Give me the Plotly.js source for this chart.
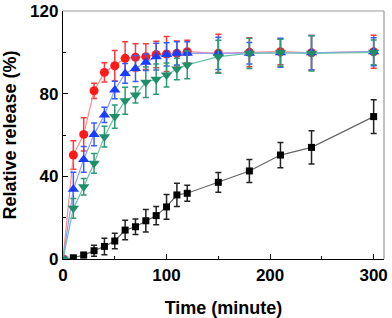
<!DOCTYPE html>
<html><head><meta charset="utf-8">
<script src="https://cdn.plot.ly/plotly-3.0.1.min.js"></script>
<style>html,body{margin:0;padding:0;background:#fff}#chart{width:392px;height:318px}</style>
</head><body><div id="chart"></div>
<script>
const time = [0,10,20,30,40,50,60,70,80,90,100,110,120,150,180,210,240,300];
const blackVals = [0,0.6,1.9,4.0,6.1,8.7,14.0,15.6,18.5,21.0,25.2,31.0,31.8,37.1,42.6,50.3,54.0,68.9];
const blackErr  = [0,0.8,1.2,2.7,4.0,3.8,4.7,3.8,5.4,4.4,6.0,5.6,3.9,4.8,5.6,6.1,8.0,8.2];
const redVals   = [0,50.3,60.3,81.4,90.3,93.5,97.1,97.6,97.9,99.0,99.2,99.5,100.3,99.5,100.0,100.3,99.8,100.3];
const redErr    = [0,6.9,8.0,3.7,4.7,7.4,8.0,6.6,6.2,6.4,8.5,6.0,5.5,9.3,7.0,6.3,8.3,8.0];
const blueVals  = [0,33.7,48.2,60.3,69.7,81.8,89.8,92.2,95.2,97.9,99.0,99.5,99.5,99.5,99.5,99.8,99.8,100.3];
const blueErr   = [0,8.3,6.2,5.5,3.7,4.2,4.8,6.3,4.0,6.5,5.6,5.6,5.6,7.8,5.2,7.0,8.3,6.8];
const greenVals = [0,24.5,35.0,46.3,59.2,68.9,76.6,79.4,85.5,87.0,89.0,91.9,93.9,97.9,99.5,99.8,99.5,100.0];
const greenErr  = [0,4.8,4.0,4.8,5.0,5.6,6.5,3.9,7.4,7.3,5.8,5.2,6.7,8.0,7.3,6.5,8.5,6.0];

function series(y, err, mColor, lColor, eColor, symbol, size){
  return {
    x: time, y: y, type: 'scatter', mode: 'lines+markers', cliponaxis: true,
    line: {color: lColor, width: 1.2},
    marker: {color: mColor, symbol: symbol, size: size},
    error_y: {type: 'data', array: err, visible: true, color: eColor, thickness: 1.5, width: 3}
  };
}
const data = [
  series(blackVals, blackErr, '#000000', '#666666', '#222222', 'square', 7),
  series(redVals, redErr, '#ff1a1a', '#ff8a8a', '#ff3a3a', 'circle', 9),
  series(blueVals, blueErr, '#1a3cff', '#8a9aff', '#3a5cff', 'triangle-up', 10),
  series(greenVals, greenErr, '#1f8f6a', '#6fbfa8', '#2a9a78', 'triangle-down', 10)
];
const tickFont = {family: 'Liberation Sans, Arial, sans-serif', size: 17, color: '#000', weight: 'bold'};
const titleFont = {family: 'Liberation Sans, Arial, sans-serif', size: 18, color: '#000', weight: 'bold'};
const layout = {
  width: 392, height: 318,
  margin: {l: 63, r: 8, t: 11, b: 59},
  paper_bgcolor: '#fff', plot_bgcolor: '#fff',
  showlegend: false,
  xaxis: {
    range: [0, 310], tickvals: [0,100,200,300], ticktext: ['0','100','200','300'],
    ticks: 'inside', ticklen: 5, tickcolor: '#000', tickwidth: 1,
    minor: {dtick: 50, ticks: 'inside', ticklen: 3, tickcolor: '#000', showgrid: false},
    showline: true, linecolor: '#000', linewidth: 1.2, showgrid: false, zeroline: false,
    tickfont: tickFont, automargin: false,
    title: {text: 'Time (minute)', font: titleFont, standoff: 18}
  },
  yaxis: {
    range: [0, 120], tickvals: [0,40,80,120], ticktext: ['0','40','80','120'],
    ticks: 'inside', ticklen: 5, tickcolor: '#000', tickwidth: 1,
    minor: {dtick: 20, ticks: 'inside', ticklen: 3, tickcolor: '#000', showgrid: false},
    showline: true, linecolor: '#000', linewidth: 1.2, showgrid: false, zeroline: false,
    tickfont: tickFont, automargin: false,
    title: {text: 'Relative release (%)', font: titleFont, standoff: 8}
  },
  shapes: [
    {type: 'line', xref: 'paper', yref: 'paper', x0: 0, x1: 1, y0: 1, y1: 1, line: {color: '#999', width: 1.2}},
    {type: 'line', xref: 'paper', yref: 'paper', x0: 1, x1: 1, y0: 0, y1: 1, line: {color: '#999', width: 1.2}}
  ]
};
Plotly.newPlot('chart', data, layout, {displayModeBar: false, staticPlot: true});
</script>
</body></html>
